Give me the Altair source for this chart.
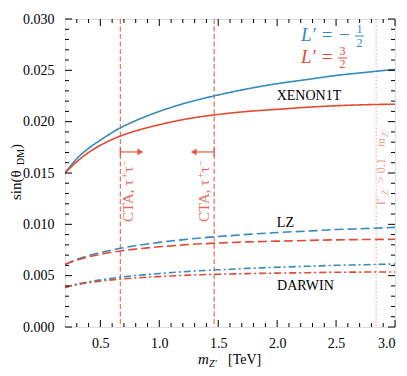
import altair as alt
import pandas as pd

# ---------------- data ----------------
mz = [0.2, 0.3, 0.4, 0.5, 0.67, 0.8, 1.0, 1.25, 1.5, 1.75, 2.0, 2.25, 2.5, 2.75, 3.0]
xenon_blue = [0.0150, 0.0164, 0.0174, 0.0182, 0.0194, 0.0201, 0.0210, 0.0219, 0.0226, 0.0232, 0.0237, 0.0241, 0.0245, 0.0248, 0.0251]
xenon_red = [0.0150, 0.0161, 0.0170, 0.0177, 0.0186, 0.0191, 0.0197, 0.0203, 0.0207, 0.0210, 0.0212, 0.0214, 0.02155, 0.02165, 0.0217]
lz_blue = [0.00610, 0.00660, 0.00696, 0.00724, 0.00767, 0.00792, 0.00824, 0.00856, 0.00881, 0.00902, 0.00920, 0.00934, 0.00949, 0.00959, 0.00970]
lz_red = [0.00610, 0.00650, 0.00683, 0.00708, 0.00741, 0.00759, 0.00781, 0.00803, 0.00818, 0.00829, 0.00836, 0.00843, 0.00849, 0.00852, 0.00854]
darwin_blue = [0.00386, 0.00418, 0.00440, 0.00458, 0.00485, 0.00501, 0.00521, 0.00542, 0.00557, 0.00571, 0.00582, 0.00591, 0.00601, 0.00607, 0.00614]
darwin_red = [0.00386, 0.00411, 0.00431, 0.00446, 0.00467, 0.00478, 0.00491, 0.00505, 0.00514, 0.00520, 0.00525, 0.00529, 0.00533, 0.00535, 0.00536]

series_L = ["-1/2", "3/2"]
experiments = ["XENON1T", "LZ", "DARWIN"]

cta_x = [0.67, 1.466]          # CTA tau+tau- bounds
cta_arrow_end = [0.839, 1.292]
arrow_y = 0.01705
width_x = [2.84]               # Gamma_Z' > 0.1 m_Z'

x_major = [0.5, 1.0, 1.5, 2.0, 2.5, 3.0]
x_minor = [round(0.2 + 0.1 * i, 1) for i in range(1, 28)]
x_minor = [v for v in x_minor if v not in x_major]
y_major = [0.0, 0.005, 0.010, 0.015, 0.020, 0.025, 0.030]
y_minor = [round(0.001 * i, 3) for i in range(1, 30)]
y_minor = [v for v in y_minor if v not in y_major]

BLUE = "#348ABD"
RED = "#E24A33"
FONT = "Liberation Serif"
W, H = 330, 308
LEFT, TOP = 65, 19   # absolute pixel position of the plot area


def dx(px):   # absolute pixel x -> data x
    return 0.2 + (px - LEFT) * 2.8 / W


def dy(py):   # absolute pixel y -> data y
    return (TOP + H - py) * 0.03 / H


rows = []
for exp, b, r in [("XENON1T", xenon_blue, xenon_red), ("LZ", lz_blue, lz_red), ("DARWIN", darwin_blue, darwin_red)]:
    for xv, yb, yr in zip(mz, b, r):
        rows.append({"x": xv, "y": yb, "L": "-1/2", "exp": exp})
        rows.append({"x": xv, "y": yr, "L": "3/2", "exp": exp})
curves = pd.DataFrame(rows)

xs = alt.Scale(domain=[0.2, 3.0], nice=False, zero=False)
ys = alt.Scale(domain=[0.0, 0.03], nice=False, zero=False)


def X(f, **kw):
    return alt.X(f, type="quantitative", scale=xs, **kw)


def Y(f, **kw):
    return alt.Y(f, type="quantitative", scale=ys, **kw)


xaxis = alt.Axis(values=x_major, format=".1f", ticks=False, domain=False, grid=False, title=None,
                 labelFont=FONT, labelFontSize=14, labelColor="black", labelPadding=9)
yaxis = alt.Axis(values=y_major, format=".3f", ticks=False, domain=False, grid=False, title=None,
                 labelFont=FONT, labelFontSize=14, labelColor="black", labelPadding=11)

lines = alt.Chart(curves).mark_line(strokeWidth=1.6, interpolate="monotone", clip=True).encode(
    x=X("x", axis=xaxis),
    y=Y("y", axis=yaxis),
    color=alt.Color("L:N", scale=alt.Scale(domain=series_L, range=[BLUE, RED]), legend=None),
    strokeDash=alt.StrokeDash("exp:N", scale=alt.Scale(domain=experiments, range=[[1, 0], [9, 4], [7, 3, 2, 3]]), legend=None),
)

# vertical lines
cta = alt.Chart(pd.DataFrame({"x": cta_x})).mark_rule(color=RED, opacity=0.75, strokeWidth=1.3, strokeDash=[5, 2.5]).encode(x=X("x"))
wid = alt.Chart(pd.DataFrame({"x": width_x})).mark_rule(color=RED, opacity=0.55, strokeWidth=1.2, strokeDash=[1.2, 2.2]).encode(x=X("x"))

# arrows
arr_df = pd.DataFrame({"x": cta_x, "x2": cta_arrow_end, "y": [arrow_y, arrow_y],
                       "ylo": [arrow_y - 0.0004] * 2, "yhi": [arrow_y + 0.0004] * 2,
                       "shape": ["triangle-right", "triangle-left"]})
shaft = alt.Chart(arr_df).mark_rule(color=RED, opacity=0.85, strokeWidth=1.3).encode(x=X("x"), x2="x2", y=Y("y"))
cap = alt.Chart(arr_df).mark_rule(color=RED, opacity=0.85, strokeWidth=1.3).encode(x=X("x"), y=Y("ylo"), y2="yhi")
head = alt.Chart(arr_df).mark_point(filled=True, color=RED, opacity=0.9, size=45).encode(
    x=X("x2"), y=Y("y"), shape=alt.Shape("shape:N", scale=None))


# inward ticks
def tick_layers():
    layers = []
    for vals, L in [(x_major, 7), (x_minor, 4)]:
        d = pd.DataFrame({"v": vals})
        layers.append(alt.Chart(d).mark_rule(color="black", strokeWidth=1).encode(x=X("v"), y=alt.value(H), y2=alt.value(H - L)))
        layers.append(alt.Chart(d).mark_rule(color="black", strokeWidth=1).encode(x=X("v"), y=alt.value(0), y2=alt.value(L)))
    for vals, L in [(y_major, 7), (y_minor, 4)]:
        d = pd.DataFrame({"v": vals})
        layers.append(alt.Chart(d).mark_rule(color="black", strokeWidth=1).encode(y=Y("v"), x=alt.value(0), x2=alt.value(L)))
        layers.append(alt.Chart(d).mark_rule(color="black", strokeWidth=1).encode(y=Y("v"), x=alt.value(W), x2=alt.value(W - L)))
    return layers


one = pd.DataFrame({"a": [0]})


def ptext(txt, x, y, size=14, color="black", italic=False, angle=0, align="left", opacity=1.0):
    kw = dict(text=txt, font=FONT, fontSize=size, color=color, align=align, baseline="alphabetic", opacity=opacity)
    if italic:
        kw["fontStyle"] = "italic"
    if angle:
        kw["angle"] = angle
    return alt.Chart(one).mark_text(**kw).encode(x=alt.value(x), y=alt.value(y))


def dtext(txt, x, y, size=14, color="black", italic=False, angle=0, align="center", opacity=1.0):
    kw = dict(text=txt, font=FONT, fontSize=size, color=color, align=align, baseline="alphabetic", opacity=opacity)
    if italic:
        kw["fontStyle"] = "italic"
    if angle:
        kw["angle"] = angle
    return alt.Chart(pd.DataFrame({"x": [x], "y": [y]})).mark_text(**kw).encode(x=X("x"), y=Y("y"))


def prule(x1, x2, y, color):
    return alt.Chart(one).mark_rule(color=color, strokeWidth=1).encode(x=alt.value(x1), x2=alt.value(x2), y=alt.value(y))


def cta_label(base_px):
    # rotated "CTA, τ⁺τ⁻", reading upward from y=222 px
    kw = dict(color=RED, angle=270, align="left", opacity=0.8)
    return [
        dtext("CTA, τ", dx(base_px), dy(222), size=15, **kw),
        dtext("+", dx(base_px - 5), dy(178), size=10, **kw),
        dtext("τ", dx(base_px), dy(172.5), size=15, **kw),
        dtext("−", dx(base_px - 5), dy(166), size=10, **kw),
    ]


texts = [
    # experiment labels
    dtext("XENON1T", 2.27, 0.0221),
    dtext("LZ", 2.07, 0.00974),
    dtext("DARWIN", 2.24, 0.0036),
    # CTA labels
    *cta_label(133),
    *cta_label(209),
    # width label
    dtext("Γ", dx(385), dy(205), size=12, color=RED, angle=270, align="left", opacity=0.55),
    dtext("Z′", dx(388), dy(195), size=8.5, color=RED, angle=270, align="left", italic=True, opacity=0.55),
    dtext("> 0.1", dx(385), dy(183), size=12, color=RED, angle=270, align="left", opacity=0.55),
    dtext("m", dx(385), dy(147), size=12, color=RED, angle=270, align="left", italic=True, opacity=0.55),
    dtext("Z′", dx(388), dy(137), size=8.5, color=RED, angle=270, align="left", italic=True, opacity=0.55),
    # legend
    ptext("L′ = −", 236, 22, size=19, color=BLUE, italic=True),
    ptext("1", 294.5, 14, size=12, color=BLUE, align="center"),
    prule(290, 299, 17, BLUE),
    ptext("2", 294.5, 28, size=12, color=BLUE, align="center"),
    ptext("L′ =", 236, 44, size=19, color=RED, italic=True),
    ptext("3", 277.5, 36, size=12, color=RED, align="center"),
    prule(273, 282, 39, RED),
    ptext("2", 277.5, 49, size=12, color=RED, align="center"),
    # x title
    ptext("m", 133, 345, size=15, italic=True),
    ptext("Z′", 144, 348, size=10, italic=True),
    ptext("[TeV]", 163, 345, size=14),
    # y title
    ptext("sin(θ", -44, 181, size=15, angle=270),
    ptext("DM", -41, 146, size=10, angle=270),
    ptext(")", -44, 130, size=15, angle=270),
]

chart = alt.layer(
    cta, wid, lines, shaft, cap, head, *tick_layers(), *texts
).properties(
    width=W, height=H,
    padding={"left": 57, "top": 11, "right": 4, "bottom": 41},
    autosize=alt.AutoSizeParams(type="none"),
).configure_view(stroke="black", strokeWidth=1.6).configure(background="white")

chart.save("out.html", embed_options={"renderer": "svg", "actions": False})
